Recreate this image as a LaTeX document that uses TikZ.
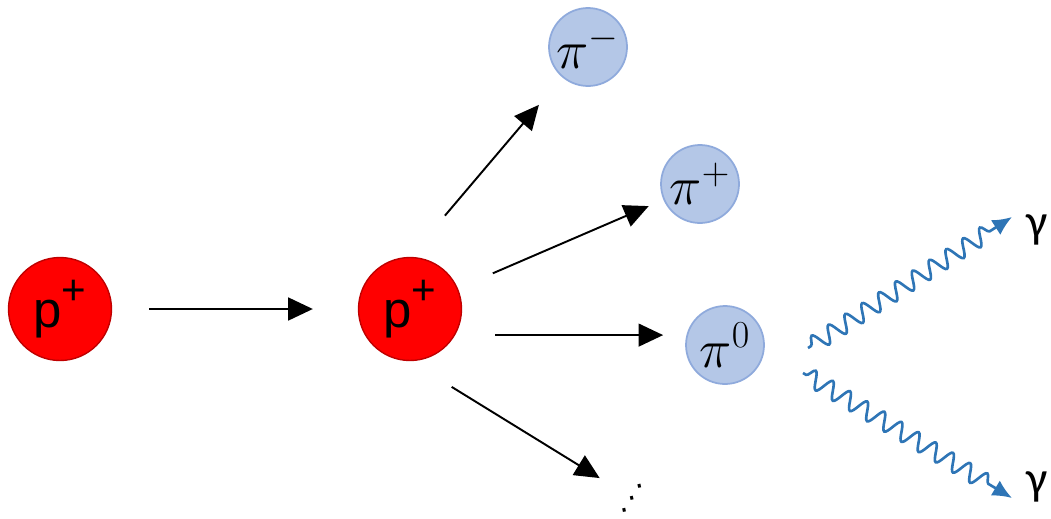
\documentclass[tikz,border=0pt]{standalone}
\usepackage{fix-cm}
\usepackage[no-math]{fontspec}
\setmainfont{Liberation Sans}
\setsansfont{Liberation Sans}
\newfontfamily\gammafont{Carlito}
\newfontfamily\symbolfont{DejaVu Sans}
\usetikzlibrary{arrows.meta, decorations.pathmorphing}
\definecolor{protonred}{HTML}{FF0000}
\definecolor{protonedge}{HTML}{C00000}
\definecolor{pionfill}{HTML}{B4C7E7}
\definecolor{pionedge}{HTML}{8FAADC}
\definecolor{photonblue}{HTML}{2E75B6}

\begin{document}
\begin{tikzpicture}[
    x=0.02cm, y=-0.02cm,
    every node/.style={font=\sffamily},
    proton/.style={circle, draw=protonedge, fill=protonred, line width=0.8pt, minimum size=2.06cm, inner sep=0pt, font=\sffamily\fontsize{29}{32}\selectfont},
    pion/.style={circle, draw=pionedge, fill=pionfill, line width=1pt, minimum size=1.56cm, inner sep=0pt, font=\fontsize{31}{34}\selectfont},
    flow/.style={-{Triangle[length=14pt, width=13pt]}, line width=1.1pt},
    photon/.style={draw=photonblue, line width=1.5pt, -{Latex[length=11pt, width=10pt]}, decorate, decoration={snake, amplitude=0.17cm, segment length=0.4cm, pre length=2pt, post length=0.4cm}},
    gammalab/.style={font=\gammafont\fontsize{27}{30}\selectfont, inner sep=0pt, anchor=west}
]
\useasboundingbox (0,0) rectangle (1051,518);

% Protons
\node[proton] (pin)  at (60,309)  {p\raisebox{0.45em}{\fontsize{24}{24}\selectfont +}};
\node[proton] (pout) at (410,309) {p\raisebox{0.45em}{\fontsize{24}{24}\selectfont +}};

% Pions
\node[pion] (pim) at (588,47)  {$\pi^-$};
\node[pion] (pip) at (700,184) {$\pi^+$};
\node[pion] (piz) at (725,345) {$\pi^0$};
\node[inner sep=0pt, rotate=12, font=\symbolfont\fontsize{17}{17}\selectfont] (more) at (632,498) {⋰};

% Photons
\node[gammalab] (gup)   at (1026,230) {γ};
\node[gammalab] (gdown) at (1026,487) {γ};
\coordinate (gstart1) at (808,348);
\coordinate (gstart2) at (803,373);

% Flows
\draw[flow, shorten <=0.74cm, shorten >=0.9cm] (pin) -- (pout);
\draw[flow, shorten <=1.08cm, shorten >=0.72cm] (pout.north) -- (pim);
\draw[flow, shorten <=0.76cm, shorten >=0.32cm] (pout) -- (pip);
\draw[flow, shorten <=0.8cm, shorten >=0.44cm] (pout.-30) -- (pout.-30 -| piz.west);
\draw[flow, shorten <=0.98cm, shorten >=0.4cm] (pout.south) -- (more);

% Decay of the neutral pion
\draw[photon] (gstart1) -- ([shift={(-14,-13)}]gup.west);
\draw[photon] (gstart2) -- ([shift={(-14,11)}]gdown.west);
\end{tikzpicture}
\end{document}
